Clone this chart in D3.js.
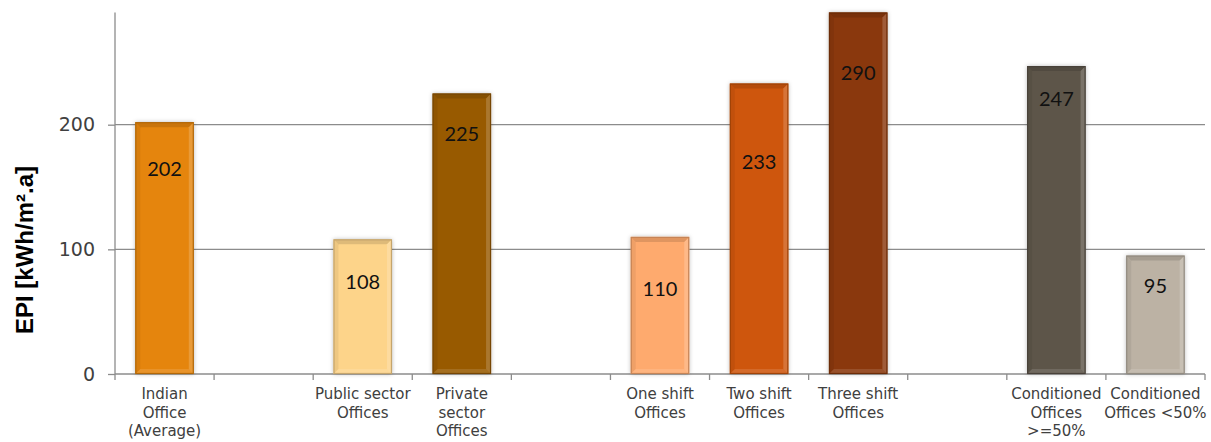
<!DOCTYPE html>
<html>
<head>
<meta charset="utf-8">
<script src="https://cdn.jsdelivr.net/npm/d3@7"></script>
<style>
  html, body { margin: 0; padding: 0; background: #ffffff; }
  svg { display: block; }
</style>
</head>
<body>
<svg id="chart" width="1211" height="442"></svg>
<script>
// Category slots ("gap" entries are empty slots between groups)
const categories = [
  "Indian Office (Average)", "gap1", "Public sector Offices", "Private sector Offices", "gap2",
  "One shift Offices", "Two shift Offices", "Three shift Offices", "gap3",
  "Conditioned Offices >=50%", "Conditioned Offices <50%"
];
const categoryLines = [
  ["Indian", "Office", "(Average)"], [], ["Public sector", "Offices"], ["Private", "sector", "Offices"], [],
  ["One shift", "Offices"], ["Two shift", "Offices"], ["Three shift", "Offices"], [],
  ["Conditioned", "Offices", ">=50%"], ["Conditioned", "Offices <50%"]
];
// EPI values in kWh/m².a (null = no bar)
const epiValues = [202, null, 108, 225, null, 110, 233, 290, null, 247, 95];
// Where each value label sits, in kWh/m².a
const labelAnchor = [165, null, 74, 193, null, 68, 170, 242, null, 221, 71];
const barColors = [
  "#E5850A", null, "#FDD48A", "#985A05", null,
  "#FEAA6E", "#CE560A", "#8A390A", null,
  "#5D5449", "#BCB2A4"
];
const yTicks = [0, 100, 200];
const yTitle = "EPI [kWh/m\u00B2.a]";

const svg = d3.select("#chart");
const plotLeft = 115, plotRight = 1205, plotTop = 12.5, plotBottom = 374;

const x = d3.scaleBand().domain(categories).range([plotLeft, plotRight])
  .paddingInner(0.41).paddingOuter(0.205);
const y = d3.scaleLinear().domain([0, 290]).range([plotBottom, plotTop]);

const defs = svg.append("defs");
const shadow = defs.append("filter").attr("id", "barShadow")
  .attr("x", "-20%").attr("y", "-10%").attr("width", "140%").attr("height", "120%");
shadow.append("feDropShadow").attr("dx", 0).attr("dy", 0)
  .attr("stdDeviation", 2.2).attr("flood-color", "#000").attr("flood-opacity", 0.28);

const gridColor = "#8c8c8c";

// Horizontal gridlines
svg.append("g").selectAll("line").data(yTicks.filter(t => t > 0)).join("line")
  .attr("x1", plotLeft).attr("x2", plotRight)
  .attr("y1", d => y(d)).attr("y2", d => y(d))
  .attr("stroke", gridColor).attr("stroke-width", 1.3);

// Y axis
const yAxis = svg.append("g").attr("transform", `translate(${plotLeft},0)`)
  .call(d3.axisLeft(y).tickValues(yTicks).tickSize(7).tickPadding(13).tickFormat(d3.format("d")));
yAxis.select(".domain").remove();
yAxis.append("line").attr("x1", 0).attr("x2", 0).attr("y1", plotTop).attr("y2", plotBottom)
  .attr("stroke", gridColor).attr("stroke-width", 1.3);
yAxis.selectAll(".tick line").attr("stroke", gridColor).attr("stroke-width", 1.3);
yAxis.selectAll(".tick text")
  .attr("font-family", "'DejaVu Sans', sans-serif").attr("font-size", 19)
  .attr("fill", "#404040");

// X axis line and slot boundary ticks
const step = x.step();
const boundaries = d3.range(categories.length + 1).map(i => x.range()[0] + i * step);
svg.append("line").attr("x1", plotLeft).attr("x2", plotRight).attr("y1", plotBottom).attr("y2", plotBottom)
  .attr("stroke", gridColor).attr("stroke-width", 1.3);
svg.append("g").selectAll("line").data(boundaries).join("line")
  .attr("x1", d => d).attr("x2", d => d)
  .attr("y1", plotBottom).attr("y2", plotBottom + 6)
  .attr("stroke", gridColor).attr("stroke-width", 1.3);

// Category labels
const catG = svg.append("g");
categories.forEach((c, i) => {
  const lines = categoryLines[i];
  if (!lines.length) return;
  const cx = x(c) + x.bandwidth() / 2;
  const t = catG.append("text")
    .attr("x", cx)
    .attr("y", plotBottom + 25)
    .attr("text-anchor", "middle")
    .attr("font-family", "'DejaVu Sans', sans-serif")
    .attr("font-size", 15)
    .attr("fill", "#404040");
  lines.forEach((ln, j) => {
    t.append("tspan").attr("x", cx).attr("dy", j === 0 ? 0 : 18.5).text(ln);
  });
});

// Bars with bevelled edges
const bars = categories.map((c, i) => ({ c, v: epiValues[i], color: barColors[i], lab: labelAnchor[i] }))
  .filter(d => d.v !== null);

const bw = x.bandwidth();
const bv = 5;
const barG = svg.append("g");
bars.forEach(d => {
  const x0 = x(d.c), y0 = y(d.v), h = y(0) - y(d.v);
  const g = barG.append("g");
  g.append("rect").attr("x", x0).attr("y", y0).attr("width", bw).attr("height", h)
    .attr("fill", d.color).attr("filter", "url(#barShadow)");
  const x1 = x0 + bw, y1 = y0 + h;
  const poly = (pts, fill, op) => g.append("polygon")
    .attr("points", pts.map(p => p.join(",")).join(" "))
    .attr("fill", fill).attr("fill-opacity", op);
  // top
  poly([[x0, y0], [x1, y0], [x1 - bv, y0 + bv], [x0 + bv, y0 + bv]], "#000", 0.12);
  // left
  poly([[x0, y0], [x0 + bv, y0 + bv], [x0 + bv, y1 - bv], [x0, y1]], "#000", 0.06);
  // right
  poly([[x1, y0], [x1, y1], [x1 - bv, y1 - bv], [x1 - bv, y0 + bv]], "#fff", 0.18);
  // bottom
  poly([[x0, y1], [x0 + bv, y1 - bv], [x1 - bv, y1 - bv], [x1, y1]], "#fff", 0.12);
  g.append("rect").attr("x", x0 + 0.5).attr("y", y0 + 0.5).attr("width", bw - 1).attr("height", h - 1)
    .attr("fill", "none").attr("stroke", d3.color(d.color).darker(0.7)).attr("stroke-width", 1.2);
  // value label
  g.append("text")
    .attr("x", x0 + bw / 2).attr("y", y(d.lab))
    .attr("dy", "0.36em")
    .attr("text-anchor", "middle")
    .attr("font-family", "Lato, 'Open Sans', sans-serif")
    .attr("font-size", 20)
    .attr("fill", "#111")
    .text(d.v);
});

// Y axis title
svg.append("text")
  .attr("transform", `translate(33,250) rotate(-90)`)
  .attr("text-anchor", "middle")
  .attr("font-family", "'Liberation Sans', Arial, sans-serif")
  .attr("font-weight", "bold")
  .attr("font-size", 24)
  .attr("fill", "#000")
  .text(yTitle);
</script>
</body>
</html>
